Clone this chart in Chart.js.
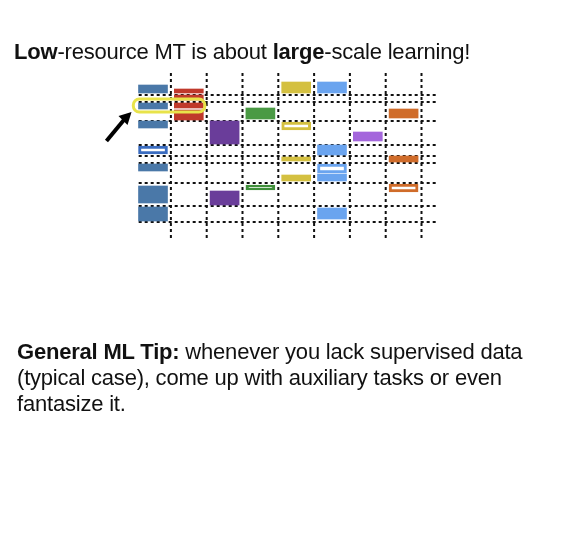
<!DOCTYPE html>
<html><head><meta charset="utf-8">
<script src="https://cdn.jsdelivr.net/npm/chart.js@4"></script>
<style>
body{margin:0;background:#fff;width:584px;height:536px;overflow:hidden;font-family:"Liberation Sans",Arial,sans-serif;}
#wrap{position:absolute;left:0;top:0;width:584px;height:536px;}
.t{position:absolute;color:#111;font-size:22px;white-space:nowrap;}
</style></head><body>
<div id="wrap"><canvas id="c" width="584" height="536"></canvas></div>
<div class="t" style="left:14px;top:39px;letter-spacing:-0.2px;"><b>Low</b>-resource MT is about <b>large</b>-scale learning!</div>
<div class="t" style="left:17px;top:339px;line-height:26px;letter-spacing:-0.2px;"><b>General ML Tip:</b> whenever you lack supervised data<br>(typical case), come up with auxiliary tasks or even<br>fantasize it.</div>
<script>
// column index, [top,bottom] row extents
const colBoundaries=[0.5,1.5,2.5,3.5,4.5,5.5,6.5,7.5];
const rowLines=[95,102,121,145,156,163,183,206,222];
const blueFill=[{x:0,y:[85,93]},{x:0,y:[103,109]},{x:0,y:[121,128]},{x:0,y:[164,171]},{x:0,y:[186,203]},{x:0,y:[207,221]}];
const blueOutline=[{x:0,y:[146,154]}];
const redFill=[{x:1,y:[89,93]},{x:1,y:[95,100]},{x:1,y:[103,108]},{x:1,y:[110,120]}];
const purpleFill=[{x:2,y:[121,144]},{x:2,y:[191,205]}];
const greenFill=[{x:3,y:[108,119]}];
const greenOutline=[{x:3,y:[185,190]}];
const yellowFill=[{x:4,y:[82,93]},{x:4,y:[157,161]},{x:4,y:[175,181]}];
const yellowOutline=[{x:4,y:[122,130]}];
const lblueFill=[{x:5,y:[82,93]},{x:5,y:[145,155]},{x:5,y:[174,181]},{x:5,y:[208,219]}];
const lblueOutline=[{x:5,y:[164,173]}];
const violetFill=[{x:6,y:[132,141]}];
const orangeFill=[{x:7,y:[109,118]},{x:7,y:[156,162]}];
const orangeOutline=[{x:7,y:[184,192]}];

function fill(data,c){return {data,backgroundColor:c,borderWidth:0,barThickness:29,borderSkipped:false};}
function outl(data,c){return {data,backgroundColor:'#fff',borderColor:c,borderWidth:3,barThickness:29,borderSkipped:false};}
const overlay={id:'ov',beforeDatasetsDraw(ch){
  const {ctx,scales:{x,y}}=ch;ctx.save();ctx.strokeStyle='#111';ctx.lineWidth=2;ctx.setLineDash([3,3]);
  colBoundaries.forEach(v=>{ctx.beginPath();ctx.moveTo(x.getPixelForValue(v),y.getPixelForValue(73));ctx.lineTo(x.getPixelForValue(v),y.getPixelForValue(238));ctx.stroke();});
  rowLines.forEach(v=>{ctx.beginPath();ctx.moveTo(x.getPixelForValue(-0.4),y.getPixelForValue(v));ctx.lineTo(x.getPixelForValue(7.9),y.getPixelForValue(v));ctx.stroke();});
  ctx.restore();},
 afterDatasetsDraw(ch){
  const {ctx,scales:{x,y}}=ch;ctx.save();
  ctx.strokeStyle='#e8e34a';ctx.lineWidth=3;ctx.beginPath();
  const l=x.getPixelForValue(-0.55),r=x.getPixelForValue(1.45),t=y.getPixelForValue(99),b=y.getPixelForValue(112);
  ctx.roundRect(l,t,r-l,b-t,6);ctx.stroke();
  ctx.strokeStyle='#000';ctx.fillStyle='#000';ctx.lineWidth=4;
  const ax=x.getPixelForValue(-1.3),ay=y.getPixelForValue(141),bx=x.getPixelForValue(-0.6),by=y.getPixelForValue(112);
  ctx.beginPath();ctx.moveTo(ax,ay);ctx.lineTo(bx-6,by+6);ctx.stroke();
  ctx.beginPath();ctx.moveTo(bx,by);ctx.lineTo(bx-13,by+4);ctx.lineTo(bx-4,by+13);ctx.closePath();ctx.fill();
  ctx.restore();}};
new Chart(document.getElementById('c'),{type:'bar',
 data:{datasets:[fill(blueFill,'#4a78a8'),outl(blueOutline,'#3a6cc0'),fill(redFill,'#c0392b'),fill(purpleFill,'#6a3d9a'),
  fill(greenFill,'#4a9a44'),outl(greenOutline,'#3f8f3a'),fill(yellowFill,'#d4c040'),outl(yellowOutline,'#d4c040'),
  fill(lblueFill,'#6aa4ef'),outl(lblueOutline,'#6aa4ef'),fill(violetFill,'#a466dc'),fill(orangeFill,'#d06c2a'),outl(orangeOutline,'#d06c2a')]},
 options:{responsive:false,animation:false,layout:{padding:0},
  plugins:{legend:{display:false},tooltip:{enabled:false}},
  datasets:{bar:{grouped:false}},
  scales:{x:{type:'linear',display:false,offset:false,bounds:'data',min:-153/35.8,max:(584-153)/35.8},
   y:{type:'linear',display:false,min:0,max:536,reverse:true}}},
 plugins:[overlay]});
</script></body></html>
